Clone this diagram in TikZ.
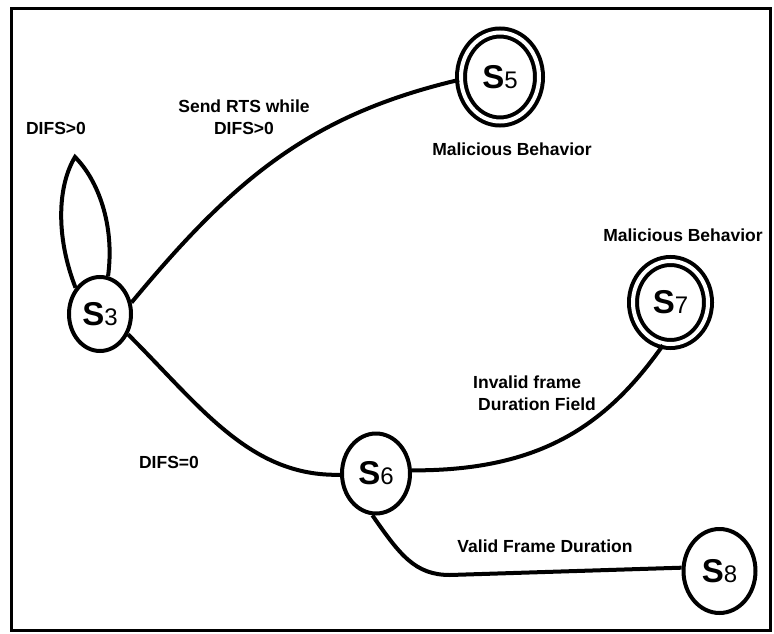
\documentclass[tikz,border=0pt]{standalone}
\usepackage{fontspec}
\setmainfont{Liberation Sans}
\usetikzlibrary{shapes.geometric}

\newcommand{\stname}[1]{{\fontsize{33}{33}\selectfont\bfseries S}{\fontsize{24}{24}\selectfont #1}}

\begin{document}
\begin{tikzpicture}[x=1pt,y=-1pt,
    state/.style={ellipse, draw=black, line width=4pt},
    accept/.style={ellipse, draw=black, line width=4pt, double, double distance=4pt},
    lbl/.style={font=\fontsize{17.5}{22}\selectfont\bfseries, align=center},
    trans/.style={black, line width=4pt}]
                    \tikzstyle{every node}+=[inner sep=0pt]
                    \useasboundingbox (0,0) rectangle (774,634);
                    \draw [black, line width=3pt] (11.5,8.5) rectangle (770,630.5);
                    % states
                    \node [state, minimum width=62pt, minimum height=74pt] (s3) at (100,314) {\stname{3}};
                    \node [accept, minimum width=78pt, minimum height=89pt] (s5) at (500,77) {\stname{5}};
                    \node [state, minimum width=68pt, minimum height=80pt] (s6) at (376,473.5) {\stname{6}};
                    \node [accept, minimum width=75pt, minimum height=83pt] (s7) at (670.5,302.5) {\stname{7}};
                    \node [state, minimum width=72pt, minimum height=84pt] (s8) at (719.5,571) {\stname{8}};
                    % transitions
                    \coordinate (tip) at (75,157);
                    \draw [trans] (s3.133) .. controls (55,235) and (58,185) .. (tip)
                                  .. controls (98,180) and (115,225) .. (s3.78);
                    \draw [trans] (s3.20) .. controls (234,179) and (310,115) .. (s5.184);
                    \draw [trans] (s3.-36) .. controls (200,406) and (250,477) .. (s6.182);
                    \draw [trans] (s6.5) .. controls (543,471) and (608,423) .. (s7.-100);
                    \coordinate (bend) at (450,575);
                    \draw [trans] (s6.-95) .. controls (400,555) and (415,575) .. (bend) -- (s8.175);
                    % labels
                    \node [lbl] (difsloop) at (56,128.5) {DIFS>0};
                    \node [lbl] (rts) at (244,117.5) {Send RTS while\\DIFS>0};
                    \node [lbl] (mal5) at (512,149) {Malicious Behavior};
                    \node [lbl] (mal7) at (683,235) {Malicious Behavior};
                    \node [lbl, align=left, anchor=west] (invalid) at (473,393) {Invalid frame\\\hspace{5pt}Duration Field};
                    \node [lbl] (difszero) at (169,462) {DIFS=0};
                    \node [lbl] (valid) at (545,546) {Valid Frame Duration};
\end{tikzpicture}
\end{document}
